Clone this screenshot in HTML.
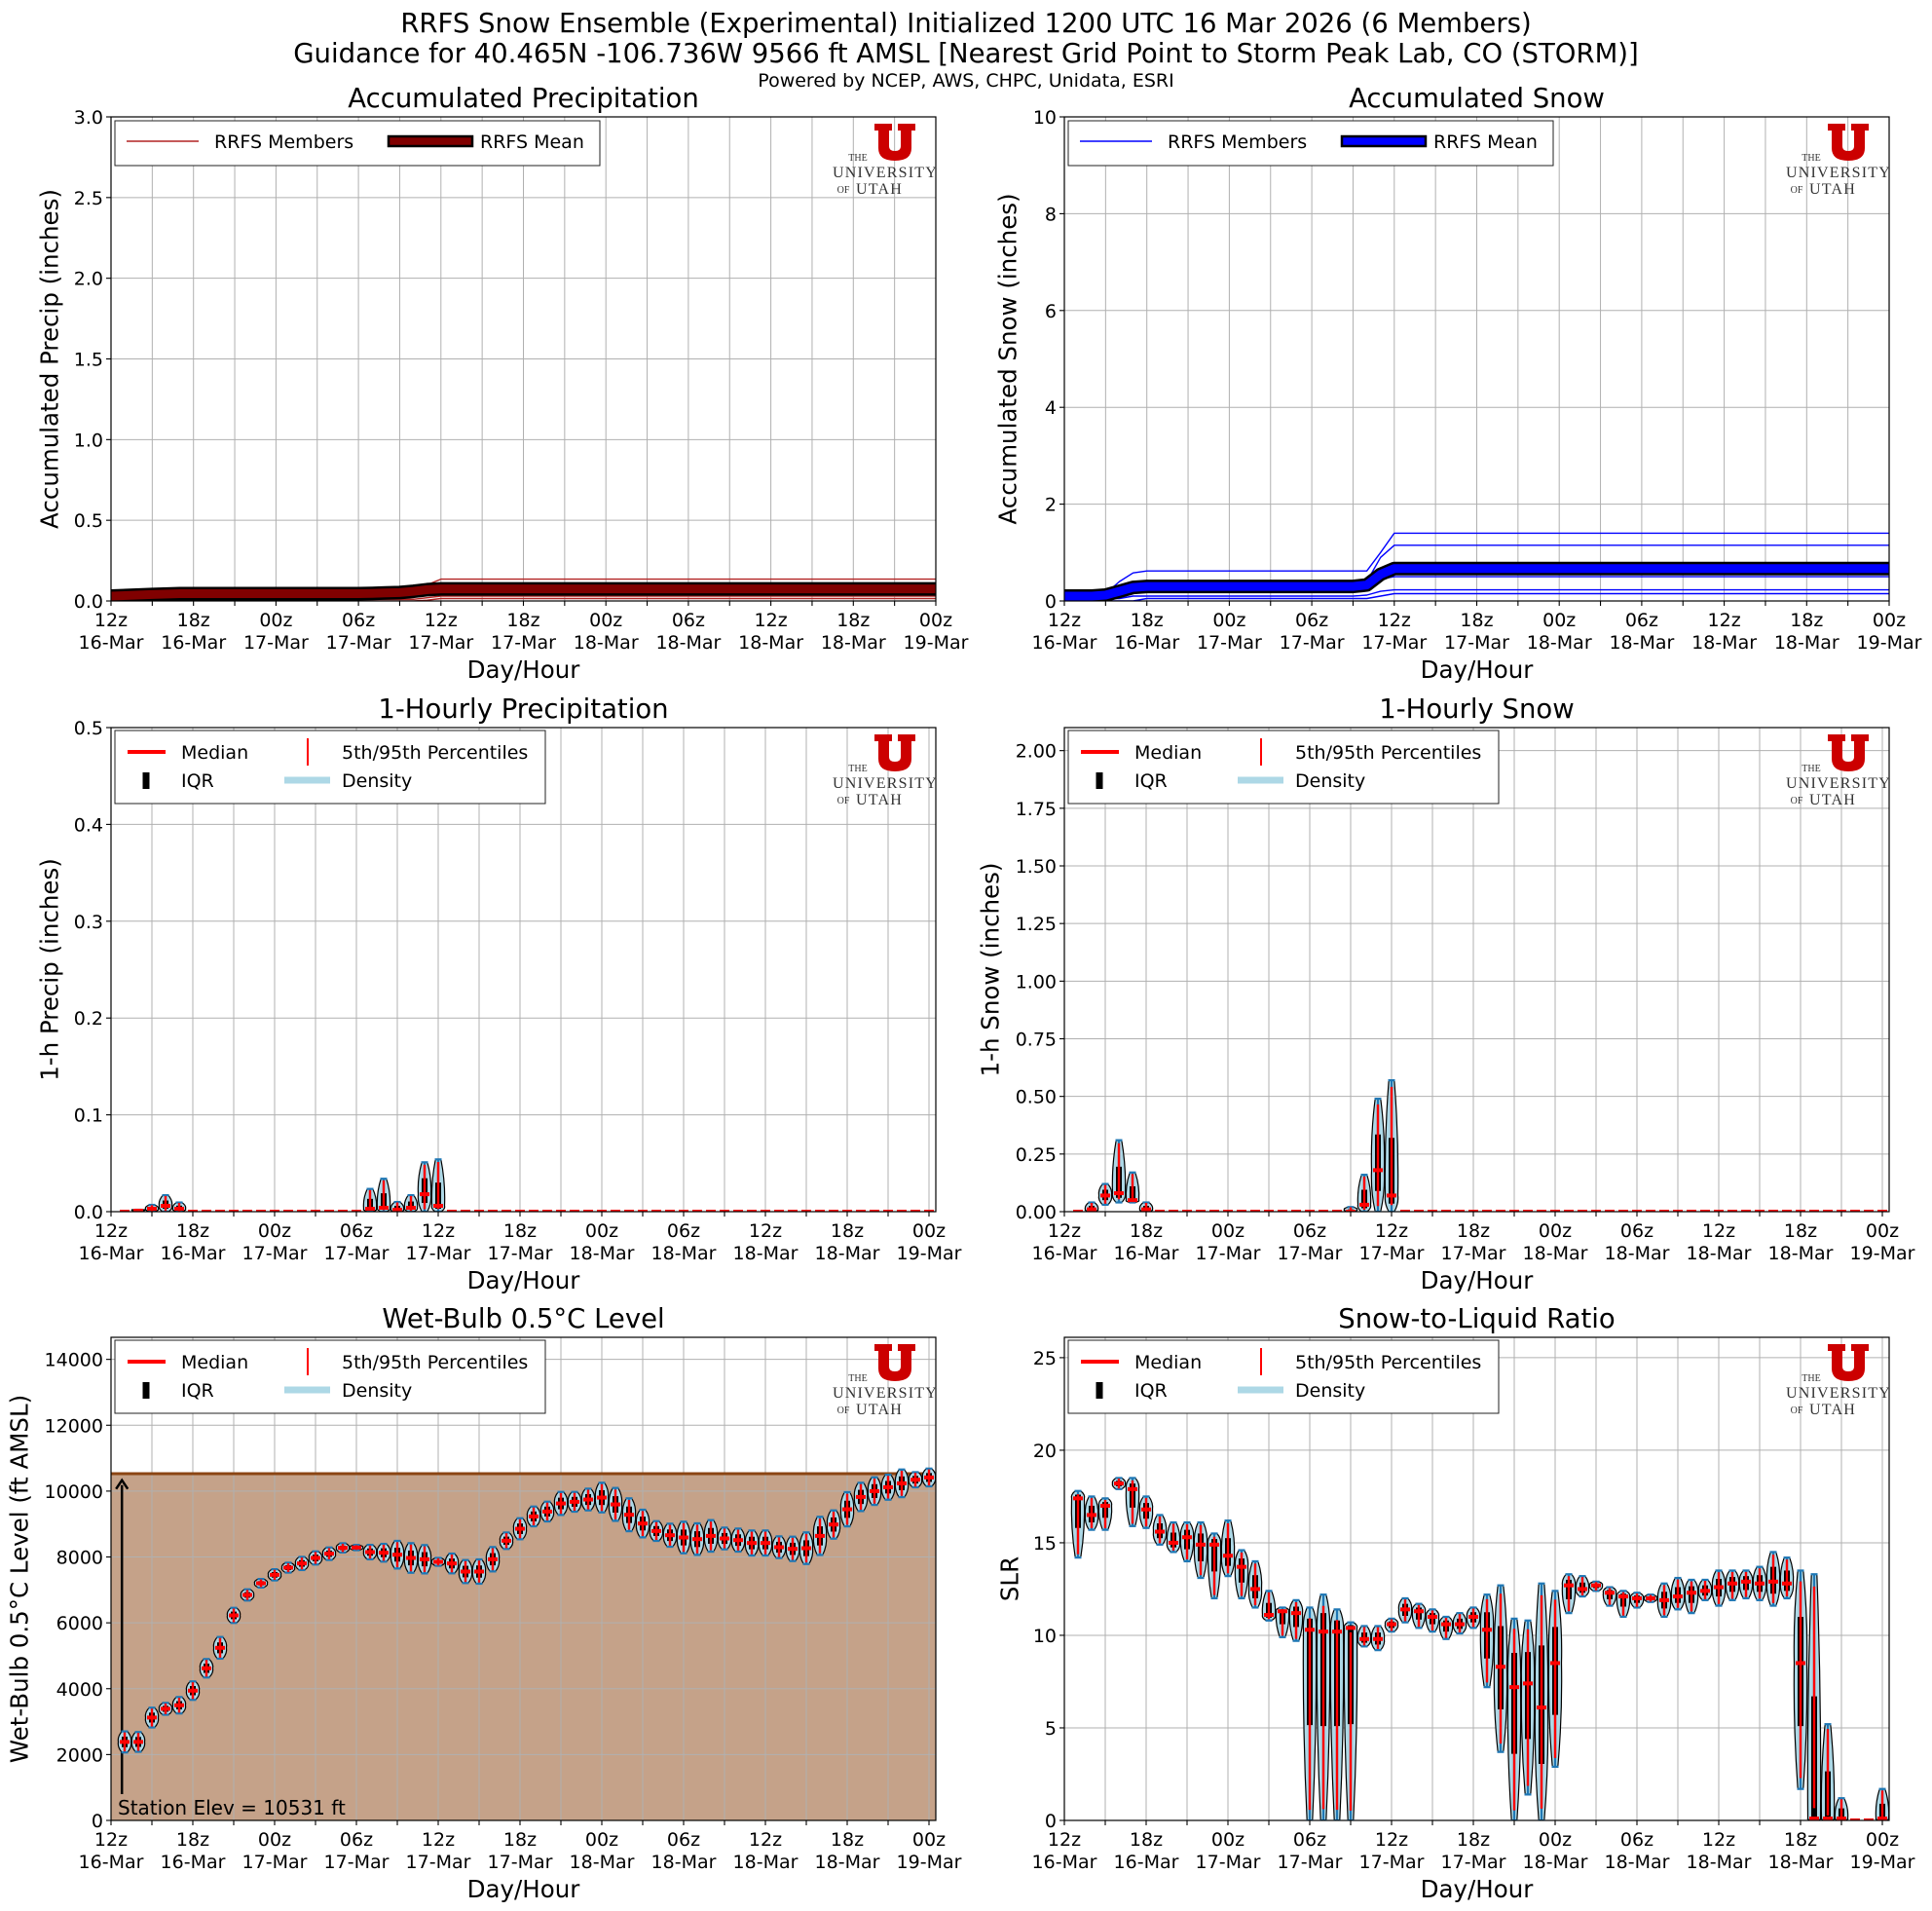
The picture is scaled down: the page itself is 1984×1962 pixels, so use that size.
<!DOCTYPE html>
<html><head><meta charset="utf-8">
<style>
html,body{margin:0;padding:0;background:#fff;}
svg{display:block;font-family:"DejaVu Sans","Liberation Sans",sans-serif;}
</style></head>
<body>
<svg id="fig" width="1984" height="1962" viewBox="0 0 1984 1962" xmlns="http://www.w3.org/2000/svg">
<text x="992" y="33" text-anchor="middle" font-size="27.5">RRFS Snow Ensemble (Experimental) Initialized 1200 UTC 16 Mar 2026 (6 Members)</text>
<text x="992" y="64" text-anchor="middle" font-size="27.5">Guidance for 40.465N -106.736W 9566 ft AMSL [Nearest Grid Point to Storm Peak Lab, CO (STORM)]</text>
<text x="992" y="89" text-anchor="middle" font-size="19">Powered by NCEP, AWS, CHPC, Unidata, ESRI</text>
</svg>
<script>
// ---------- DATA ----------
const xTickHours = [0,6,12,18,24,30,36,42,48,54,60];
const xTickHour = ["12z","18z","00z","06z","12z","18z","00z","06z","12z","18z","00z"];
const xTickDay = ["16-Mar","16-Mar","17-Mar","17-Mar","17-Mar","17-Mar","18-Mar","18-Mar","18-Mar","18-Mar","19-Mar"];

// Accumulated precip (inches) at sample hours
const precipHrs = [0,3,5,18,19,20,21,22,23,24,60];
const precipM1 = [0.03,0.045,0.05,0.05,0.06,0.08,0.08,0.08,0.10,0.135,0.135];
const precipM2 = [0.03,0.04,0.045,0.045,0.05,0.06,0.06,0.07,0.09,0.11,0.11];
const precipM3 = [0.03,0.04,0.045,0.045,0.05,0.05,0.055,0.06,0.08,0.10,0.10];
const precipM4 = [0.02,0.03,0.035,0.035,0.035,0.04,0.04,0.045,0.06,0.08,0.08];
const precipM5 = [0.01,0.01,0.01,0.01,0.01,0.01,0.01,0.01,0.02,0.03,0.03];
const precipM6 = [0,0,0,0,0,0,0,0,0.005,0.015,0.015];
const precipMean = [0.03,0.04,0.045,0.045,0.047,0.05,0.052,0.06,0.07,0.075,0.075];

// Accumulated snow (inches) at sample hours
const snowHrs = [0,2,3,4,5,6,7,21,22,23,24,60];
const snowM1 = [0.1,0.1,0.15,0.4,0.58,0.62,0.62,0.62,0.62,1.0,1.4,1.4];
const snowM2 = [0.1,0.1,0.12,0.3,0.35,0.35,0.35,0.35,0.4,0.9,1.15,1.15];
const snowM3 = [0.1,0.1,0.1,0.2,0.3,0.32,0.32,0.32,0.4,0.6,0.75,0.75];
const snowM4 = [0.1,0.1,0.1,0.15,0.2,0.2,0.2,0.2,0.3,0.45,0.5,0.5];
const snowM5 = [0.05,0.05,0.05,0.05,0.1,0.1,0.1,0.1,0.12,0.2,0.23,0.23];
const snowM6 = [0,0,0,0,0,0.05,0.05,0.05,0.05,0.1,0.15,0.15];
const snowMean = [0.1,0.1,0.12,0.2,0.28,0.3,0.3,0.3,0.33,0.55,0.67,0.67];

// Hourly violins, forecast hours 1..60
const hp1Med = [0,0.001,0.003,0.006,0.003,0,0,0,0,0, 0,0,0,0,0,0,0,0,0.003,0.004, 0.002,0.004,0.018,0.006,0,0,0,0,0,0, 0,0,0,0,0,0,0,0,0,0, 0,0,0,0,0,0,0,0,0,0, 0,0,0,0,0,0,0,0,0,0];
const hp1Hi  = [0,0.002,0.007,0.017,0.0095,0.001,0,0,0,0, 0,0,0,0,0,0,0,0.001,0.0235,0.034, 0.01,0.017,0.051,0.054,0,0,0,0,0,0, 0,0,0,0,0,0,0,0,0,0, 0,0,0,0,0,0,0,0,0,0, 0,0,0,0,0,0,0,0,0,0];
const hp1Lo  = [0,0,0,0,0,0,0,0,0,0, 0,0,0,0,0,0,0,0,0,0, 0,0,0,0,0,0,0,0,0,0, 0,0,0,0,0,0,0,0,0,0, 0,0,0,0,0,0,0,0,0,0, 0,0,0,0,0,0,0,0,0,0];

const hs1Med = [0,0.01,0.07,0.08,0.05,0.01,0,0,0,0, 0,0,0,0,0,0,0,0,0,0, 0,0.03,0.18,0.07,0,0,0,0,0,0, 0,0,0,0,0,0,0,0,0,0, 0,0,0,0,0,0,0,0,0,0, 0,0,0,0,0,0,0,0,0,0];
const hs1Hi  = [0,0.04,0.12,0.31,0.17,0.04,0,0,0,0, 0,0,0,0,0,0,0,0,0,0, 0.02,0.16,0.49,0.57,0,0,0,0,0,0, 0,0,0,0,0,0,0,0,0,0, 0,0,0,0,0,0,0,0,0,0, 0,0,0,0,0,0,0,0,0,0];
const hs1Lo  = [0,0,0.03,0.04,0.04,0,0,0,0,0, 0,0,0,0,0,0,0,0,0,0, 0,0,0,0,0,0,0,0,0,0, 0,0,0,0,0,0,0,0,0,0, 0,0,0,0,0,0,0,0,0,0, 0,0,0,0,0,0,0,0,0,0];

const wbMed = [2384,2384,3123,3389,3497,3941,4620,5241,6226,6847, 7202,7458,7675,7803,7970,8099,8276,8286,8148,8128, 8069,7970,7931,7852,7803,7557,7557,7931,8493,8857, 9231,9379,9625,9675,9744,9803,9596,9281,9015,8788, 8660,8591,8542,8640,8562,8512,8424,8424,8296,8246, 8266,8640,8985,9448,9823,10000,10118,10236,10345,10414];
const wbSpread = [320,300,300,180,250,280,280,330,230,170, 130,170,150,200,200,190,140,80,220,270, 420,450,430,120,300,350,370,370,250,320, 300,300,350,300,330,450,500,500,420,300, 350,480,480,480,330,350,380,380,330,370, 480,580,430,520,430,420,380,420,230,270];
const stationElev = 10531;

const slrMed = [17.4,16.5,17.0,18.2,17.9,16.8,15.6,15.0,15.3,14.9, 14.9,14.3,13.7,12.5,11.1,11.3,11.2,10.3,10.2,10.2, 10.4,9.8,9.8,10.6,11.4,11.3,11.0,10.6,10.6,11.0, 10.3,8.3,7.2,7.4,6.1,8.5,12.7,12.5,12.7,12.3, 12.1,12.0,12.0,11.9,12.1,12.3,12.4,12.6,12.8,12.9, 12.8,12.9,12.8,8.5,0.1,0.1,0.1,0,0,0.1];
const slrHi  = [17.8,17.5,17.4,18.5,18.5,17.5,16.5,16.1,16.1,16.1, 15.5,16.2,14.6,14.0,12.4,11.5,11.9,11.5,12.2,11.4, 10.7,10.5,10.5,10.9,12.0,11.7,11.4,11.0,11.2,11.5, 12.2,12.7,10.9,10.8,12.8,12.4,13.3,13.2,12.9,12.6, 12.4,12.3,12.2,12.8,13.1,13.0,13.0,13.5,13.5,13.5, 13.7,14.5,14.2,13.5,13.3,5.2,1.2,0,0,1.7];
const slrLo  = [14.2,15.7,15.7,17.9,15.9,15.8,14.9,14.5,14.0,13.1, 12.0,13.2,12.0,11.5,10.8,9.9,9.7,0,0,0, 0,9.4,9.2,10.2,10.7,10.4,10.2,9.8,10.1,10.4, 7.2,3.7,0,1.4,0,2.9,11.2,12.1,12.4,11.6, 11.0,11.5,11.8,11.0,11.4,11.2,11.9,11.6,11.9,12.0, 11.9,11.6,12.0,1.7,0,0,0,0,0,0];

// ---------- RENDER ----------
const NS = "http://www.w3.org/2000/svg";
const fig = document.getElementById('fig');
function mk(tag, attrs, parent){
  const e = document.createElementNS(NS, tag);
  for (const k in attrs) e.setAttribute(k, attrs[k]);
  (parent||fig).appendChild(e);
  return e;
}
let clipId = 0;

function panel(cfg){
  const g = mk('g', {});
  
  
  const {x0,x1,y0,y1} = cfg;
  const X = h => x0 + (h - cfg.xlim[0]) / (cfg.xlim[1] - cfg.xlim[0]) * (x1 - x0);
  const Y = v => y1 - (v - cfg.ylim[0]) / (cfg.ylim[1] - cfg.ylim[0]) * (y1 - y0);
  const cid = 'clip' + (clipId++);
  const cp = mk('clipPath', {id: cid}, g);
  mk('rect', {x:x0, y:y0, width:x1-x0, height:y1-y0}, cp);
  const inner = mk('g', {'clip-path': 'url(#' + cid + ')'}, g);
  if (cfg.background) cfg.background(inner, X, Y);
  const grid = mk('g', {stroke:'#b0b0b0', 'stroke-width':1}, inner);
  
  
  for (let h = 0; h <= 60; h += 3) mk('line', {x1:X(h), x2:X(h), y1:y0, y2:y1}, grid);
  cfg.yticks.forEach(v => mk('line', {x1:x0, x2:x1, y1:Y(v), y2:Y(v)}, grid));
  if (cfg.overlay) cfg.overlay(inner, X, Y);
  cfg.draw(inner, X, Y);
  const sp = mk('rect', {x:x0, y:y0, width:x1-x0, height:y1-y0, fill:'none', stroke:'#000', 'stroke-width':1.2}, g);
  
  
  const xt = mk('g', {}, g);
  
  
  for (let h = 0; h <= 60; h += 3) mk('line', {x1:X(h), x2:X(h), y1:y1, y2:y1+5, stroke:'#000', 'stroke-width':1.1}, xt);
  xTickHours.forEach((h, i) => {
    const t1 = mk('text', {x:X(h), y:y1+26, 'text-anchor':'middle', 'font-size':19}, xt);
    t1.textContent = xTickHour[i];
    const t2 = mk('text', {x:X(h), y:y1+49, 'text-anchor':'middle', 'font-size':19}, xt);
    t2.textContent = xTickDay[i];
  });
  const yt = mk('g', {}, g);
  
  
  cfg.yticks.forEach((v, i) => {
    mk('line', {x1:x0-5, x2:x0, y1:Y(v), y2:Y(v), stroke:'#000', 'stroke-width':1.1}, yt);
    const t = mk('text', {x:x0-8, y:Y(v)+7, 'text-anchor':'end', 'font-size':19}, yt);
    t.textContent = cfg.ytickLabels[i];
  });
  const tt = mk('text', {x:(x0+x1)/2, y:y0-10, 'text-anchor':'middle', 'font-size':27.5}, g);
  tt.textContent = cfg.title;
  
  
  const xl = mk('text', {x:(x0+x1)/2, y:y1+79, 'text-anchor':'middle', 'font-size':24.5}, g);
  xl.textContent = 'Day/Hour';
  
  
  const yc = (y0+y1)/2;
  const yl = mk('text', {x:cfg.ylabelX, y:yc, 'text-anchor':'middle', 'dominant-baseline':'central', 'font-size':24.5, transform:'rotate(-90 '+cfg.ylabelX+' '+yc+')'}, g);
  yl.textContent = cfg.ylabel;
  
  
  logo(g, x1, y0);
  cfg.legend(g, x0, y0);
}

function logo(g, x1, y0){
  const lg = mk('g', {}, g);
  
  
  const ux = x1 - 63, uy = y0 + 7;
  mk('path', {d:'M0,0 H18 V7 H15 V23 Q15,28 21,28 Q27,28 27,23 V7 H24 V0 H42 V7 H38 V25 Q38,38 21,38 Q4,38 4,25 V7 H0 Z', fill:'#cc0000', transform:'translate('+ux+','+uy+')'}, lg);
  const serif = '"Liberation Serif","DejaVu Serif",serif';
  const a = mk('text', {x:x1-80, y:y0+45, 'text-anchor':'middle', 'font-size':10, 'font-family':serif, fill:'#333'}, lg); a.textContent = 'THE';
  const b = mk('text', {x:x1-52, y:y0+62, 'text-anchor':'middle', 'font-size':16, 'font-family':serif, fill:'#333', 'letter-spacing':'1.2'}, lg); b.textContent = 'UNIVERSITY';
  const c = mk('text', {x:x1-95, y:y0+78, 'text-anchor':'middle', 'font-size':10, 'font-family':serif, fill:'#333'}, lg); c.textContent = 'OF';
  const d = mk('text', {x:x1-58, y:y0+79, 'text-anchor':'middle', 'font-size':16, 'font-family':serif, fill:'#333', 'letter-spacing':'1.2'}, lg); d.textContent = 'UTAH';
}

function accLegend(memColor, meanColor){
  return function(g, x0, y0){
    const lg = mk('g', {}, g);
    
    
    mk('rect', {x:x0+4, y:y0+4, width:498, height:46, fill:'#fff', stroke:'#222', 'stroke-width':1}, lg);
    mk('line', {x1:x0+16, x2:x0+90, y1:y0+25, y2:y0+25, stroke:memColor, 'stroke-width':1.5}, lg);
    const t1 = mk('text', {x:x0+106, y:y0+32, 'font-size':19}, lg); t1.textContent = 'RRFS Members';
    mk('rect', {x:x0+285, y:y0+20, width:86, height:10, fill:meanColor, stroke:'#000', 'stroke-width':2.5}, lg);
    const t2 = mk('text', {x:x0+379, y:y0+32, 'font-size':19}, lg); t2.textContent = 'RRFS Mean';
  };
}
function violinLegend(g, x0, y0){
  const lg = mk('g', {}, g);
  
  
  mk('rect', {x:x0+4, y:y0+3, width:442, height:75, fill:'#fff', stroke:'#222', 'stroke-width':1}, lg);
  mk('line', {x1:x0+17, x2:x0+56, y1:y0+25, y2:y0+25, stroke:'#ff0000', 'stroke-width':4}, lg);
  const t1 = mk('text', {x:x0+72, y:y0+32, 'font-size':19}, lg); t1.textContent = 'Median';
  mk('line', {x1:x0+202, x2:x0+202, y1:y0+11, y2:y0+39, stroke:'#ff0000', 'stroke-width':2}, lg);
  const t2 = mk('text', {x:x0+237, y:y0+32, 'font-size':19}, lg); t2.textContent = '5th/95th Percentiles';
  mk('line', {x1:x0+36, x2:x0+36, y1:y0+46, y2:y0+63, stroke:'#000', 'stroke-width':7}, lg);
  const t3 = mk('text', {x:x0+72, y:y0+61, 'font-size':19}, lg); t3.textContent = 'IQR';
  mk('line', {x1:x0+178, x2:x0+225, y1:y0+54, y2:y0+54, stroke:'#add8e6', 'stroke-width':7}, lg);
  const t4 = mk('text', {x:x0+237, y:y0+61, 'font-size':19}, lg); t4.textContent = 'Density';
}

function polyline(parent, X, Y, hrs, vals, attrs){
  const pts = hrs.map((h, i) => X(h).toFixed(1) + ',' + Y(vals[i]).toFixed(1)).join(' ');
  return mk('polyline', Object.assign({points:pts, fill:'none', 'stroke-linejoin':'round'}, attrs), parent);
}

function accDraw(hrs, members, mean, memColor, meanColor){
  return function(inner, X, Y){
    members.forEach((m, i) => {
      const l = polyline(inner, X, Y, hrs, m, {stroke:memColor, 'stroke-width':1.4});
      
      
    });
    const e = polyline(inner, X, Y, hrs, mean, {stroke:'#000', 'stroke-width':14});
    
    
    const f = polyline(inner, X, Y, hrs, mean, {stroke:meanColor, 'stroke-width':9});
    
    
  };
}

function violins(med, lo, hi){
  return function(inner, X, Y){
    const vg = mk('g', {}, inner);
    
    
    med.forEach((m, i) => {
      const h = i + 1;
      const px = X(h), ym = Y(m), yl = Y(lo[i]), yh = Y(hi[i]);
      const g = mk('g', {}, vg);
      
      
      if (yl - yh >= 1.5) {
        const w = 6.5, wc = 2.8;
        const ymid = Math.min(Math.max(ym, yh + 2), yl - 2);
        const d = 'M'+(px-wc)+','+yl+' Q'+(px-w-1)+','+((yl+ymid)/2)+' '+(px-w)+','+ymid+
                  ' Q'+(px-w-1)+','+((yh+ymid)/2)+' '+(px-wc)+','+yh+' L'+(px+wc)+','+yh+
                  ' Q'+(px+w+1)+','+((yh+ymid)/2)+' '+(px+w)+','+ymid+
                  ' Q'+(px+w+1)+','+((yl+ymid)/2)+' '+(px+wc)+','+yl+' Z';
        mk('path', {d:d, fill:'#add8e6', stroke:'#000', 'stroke-width':1.2}, g);
        mk('line', {x1:px, x2:px, y1:yh, y2:yl, stroke:'#1f77b4', 'stroke-width':2.2}, g);
        mk('line', {x1:px-3.5, x2:px+3.5, y1:yh, y2:yh, stroke:'#1f77b4', 'stroke-width':2.2}, g);
        mk('line', {x1:px-3.5, x2:px+3.5, y1:yl, y2:yl, stroke:'#1f77b4', 'stroke-width':2.2}, g);
        const q3 = ym - (ym - yh) * 0.5, q1 = ym + (yl - ym) * 0.5;
        mk('line', {x1:px, x2:px, y1:q3, y2:q1, stroke:'#000', 'stroke-width':6}, g);
        const p95 = yh + (yl - yh) * 0.05, p5 = yl - (yl - yh) * 0.05;
        mk('line', {x1:px, x2:px, y1:p95, y2:p5, stroke:'#ff0000', 'stroke-width':2.4}, g);
      }
      mk('line', {x1:px-5, x2:px+5, y1:ym, y2:ym, stroke:'#ff0000', 'stroke-width':4}, g);
    });
  };
}

const wbLo = wbMed.map((m, i) => m - wbSpread[i]);
const wbHi = wbMed.map((m, i) => m + wbSpread[i]);

const L0 = 114, L1 = 961, R0 = 1093, R1 = 1940;
const rows = [[120, 617], [747, 1244], [1373, 1869]];

panel({name:'accumulated-precipitation-panel', x0:L0, x1:L1, y0:rows[0][0], y1:rows[0][1], xlim:[0,60], ylim:[0,3],
  yticks:[0,0.5,1,1.5,2,2.5,3], ytickLabels:['0.0','0.5','1.0','1.5','2.0','2.5','3.0'],
  title:'Accumulated Precipitation', ylabel:'Accumulated Precip (inches)', ylabelX:51,
  draw:accDraw(precipHrs, [precipM1,precipM2,precipM3,precipM4,precipM5,precipM6], precipMean, '#b22222', '#800000'),
  legend:accLegend('#b22222', '#800000')});

panel({name:'accumulated-snow-panel', x0:R0, x1:R1, y0:rows[0][0], y1:rows[0][1], xlim:[0,60], ylim:[0,10],
  yticks:[0,2,4,6,8,10], ytickLabels:['0','2','4','6','8','10'],
  title:'Accumulated Snow', ylabel:'Accumulated Snow (inches)', ylabelX:1035,
  draw:accDraw(snowHrs, [snowM1,snowM2,snowM3,snowM4,snowM5,snowM6], snowMean, '#0000ff', '#0000ff'),
  legend:accLegend('#0000ff', '#0000ff')});

panel({name:'hourly-precipitation-panel', x0:L0, x1:L1, y0:rows[1][0], y1:rows[1][1], xlim:[0,60.5], ylim:[0,0.5],
  yticks:[0,0.1,0.2,0.3,0.4,0.5], ytickLabels:['0.0','0.1','0.2','0.3','0.4','0.5'],
  title:'1-Hourly Precipitation', ylabel:'1-h Precip (inches)', ylabelX:51,
  draw:violins(hp1Med, hp1Lo, hp1Hi), legend:violinLegend});

panel({name:'hourly-snow-panel', x0:R0, x1:R1, y0:rows[1][0], y1:rows[1][1], xlim:[0,60.5], ylim:[0,2.1],
  yticks:[0,0.25,0.5,0.75,1,1.25,1.5,1.75,2], ytickLabels:['0.00','0.25','0.50','0.75','1.00','1.25','1.50','1.75','2.00'],
  title:'1-Hourly Snow', ylabel:'1-h Snow (inches)', ylabelX:1017,
  draw:violins(hs1Med, hs1Lo, hs1Hi), legend:violinLegend});

panel({name:'wet-bulb-level-panel', x0:L0, x1:L1, y0:rows[2][0], y1:rows[2][1], xlim:[0,60.5], ylim:[0,14670],
  yticks:[0,2000,4000,6000,8000,10000,12000,14000], ytickLabels:['0','2000','4000','6000','8000','10000','12000','14000'],
  title:'Wet-Bulb 0.5°C Level', ylabel:'Wet-Bulb 0.5°C Level (ft AMSL)', ylabelX:20,
  background:function(inner, X, Y){
    const r = mk('rect', {x:X(0), y:Y(stationElev), width:X(60.5)-X(0), height:Y(0)-Y(stationElev), fill:'#c5a289'}, inner);
    
    
  },
  overlay:function(inner, X, Y){
    const l = mk('line', {x1:X(0), x2:X(60.5), y1:Y(stationElev), y2:Y(stationElev), stroke:'#8b4513', 'stroke-width':3}, inner);
    
    
    const ax = X(0.8);
    const a = mk('line', {x1:ax, x2:ax, y1:Y(800), y2:Y(stationElev-350), stroke:'#000', 'stroke-width':2.5}, inner);
    
    
    mk('path', {d:'M'+(ax-6)+','+(Y(stationElev-200)+9)+' L'+ax+','+Y(stationElev-200)+' L'+(ax+6)+','+(Y(stationElev-200)+9), fill:'none', stroke:'#000', 'stroke-width':2.5}, inner);
    const t = mk('text', {x:121, y:1863, 'font-size':20}, inner);
    t.textContent = 'Station Elev = ' + stationElev + ' ft';
    
    
  },
  draw:violins(wbMed, wbLo, wbHi), legend:violinLegend});

panel({name:'snow-to-liquid-ratio-panel', x0:R0, x1:R1, y0:rows[2][0], y1:rows[2][1], xlim:[0,60.5], ylim:[0,26.1],
  yticks:[0,5,10,15,20,25], ytickLabels:['0','5','10','15','20','25'],
  title:'Snow-to-Liquid Ratio', ylabel:'SLR', ylabelX:1037,
  draw:violins(slrMed, slrLo, slrHi), legend:violinLegend});
</script>
</body></html>
